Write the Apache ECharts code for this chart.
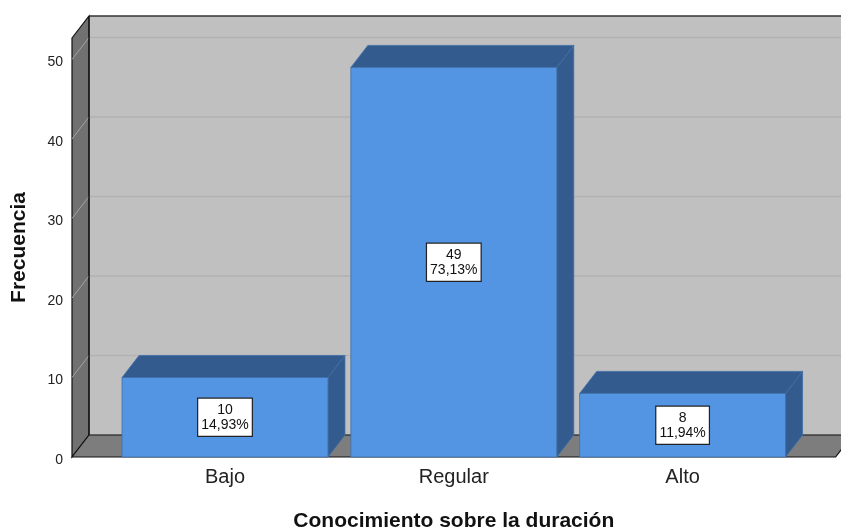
<!DOCTYPE html>
<html>
<head>
<meta charset="utf-8">
<script src="https://cdn.jsdelivr.net/npm/echarts@6/dist/echarts.min.js"></script>
<style>
html,body{margin:0;padding:0;background:#fff;overflow:hidden;}
#chart{width:841px;height:529px;}
</style>
</head>
<body>
<div id="chart"></div>
<script>
// ---- data ----
const categories = ['Bajo', 'Regular', 'Alto'];
const counts = [10, 49, 8];
const percents = [14.93, 73.13, 11.94];
const tickValues = [0, 10, 20, 30, 40, 50];
const yMax = 52.7;

// ---- style constants ----
const FONT = '"Liberation Sans", Arial, sans-serif';
const DX = 17, DY = 22;         // 3D depth offset
const PAD = 38.6;               // frame padding beyond category band
const GRID = {left: 110.6, right: 44, top: 38, bottom: 72, containLabel: false, outerBoundsMode: 'none'};

const chart = echarts.init(document.getElementById('chart'), null, {renderer: 'canvas', width: 841, height: 529});

function fmtPct(p) { return p.toFixed(2).replace('.', ',') + '%'; }

function renderFrame(params, api) {
  const cs = params.coordSys;
  const xl = cs.x - PAD, xr = cs.x + cs.width + PAD;
  const yb = api.coord([0, 0])[1];
  const yt = api.coord([0, yMax])[1];
  const children = [];
  children.push({type: 'polygon', shape: {points: [[xl + DX, yt - DY], [xr + DX + 20, yt - DY], [xr + DX + 20, yb - DY], [xl + DX, yb - DY]]},
    style: {fill: '#c0c0c0'}});
  tickValues.forEach(function (t) {
    const y = api.coord([0, t])[1];
    children.push({type: 'line', shape: {x1: xl + DX, y1: y - DY, x2: xr + DX + 20, y2: y - DY},
      style: {stroke: '#b2b2b2', lineWidth: 1.6}});
  });
  children.push({type: 'polygon', shape: {points: [[xl, yt], [xl + DX, yt - DY], [xl + DX, yb - DY], [xl, yb]]},
    style: {fill: '#717171', stroke: '#111', lineWidth: 1.2}});
  tickValues.forEach(function (t) {
    if (t === 0) return;
    const y = api.coord([0, t])[1];
    children.push({type: 'line', shape: {x1: xl, y1: y, x2: xl + DX, y2: y - DY},
      style: {stroke: '#a3a3a3', lineWidth: 1}});
  });
  children.push({type: 'polygon', shape: {points: [[xl, yb], [xl + DX, yb - DY], [xr + DX, yb - DY], [xr, yb]]},
    style: {fill: '#7d7d7d', stroke: '#111', lineWidth: 1.2}});
  children.push({type: 'line', shape: {x1: xl + DX, y1: yt - DY, x2: xr + DX + 20, y2: yt - DY},
    style: {stroke: '#333', lineWidth: 1.5}});
  children.push({type: 'line', shape: {x1: xl + DX, y1: yt - DY, x2: xl + DX, y2: yb - DY},
    style: {stroke: '#111', lineWidth: 1.2}});
  return {type: 'group', children: children};
}

function renderBar(params, api) {
  const ci = api.value(0);
  const v = api.value(1);
  const top = api.coord([ci, v]);
  const base = api.coord([ci, 0]);
  const w = api.size([1, 0])[0] * 0.9;
  const x0 = top[0] - w / 2, x1 = top[0] + w / 2;
  const yt = top[1], yb = base[1];
  const edge = {stroke: '#3f6ea8', lineWidth: 0.8};
  return {
    type: 'group',
    children: [
      {type: 'polygon', shape: {points: [[x1, yt], [x1 + DX, yt - DY], [x1 + DX, yb - DY], [x1, yb]]},
        style: Object.assign({fill: '#345b8d'}, edge)},
      {type: 'polygon', shape: {points: [[x0, yt], [x0 + DX, yt - DY], [x1 + DX, yt - DY], [x1, yt]]},
        style: Object.assign({fill: '#345b8d'}, edge)},
      {type: 'rect', shape: {x: x0, y: yt, width: w, height: yb - yt},
        style: Object.assign({fill: '#5394e3'}, edge)},
      {type: 'text', x: top[0], y: (yt + yb) / 2,
        style: {
          text: counts[params.dataIndex] + '\n' + fmtPct(percents[params.dataIndex]),
          font: '14px ' + FONT, fill: '#111', align: 'center', verticalAlign: 'middle',
          lineHeight: 15, backgroundColor: '#fff', borderColor: '#222', borderWidth: 1.2,
          padding: [4, 3, 3, 3]
        }}
    ]
  };
}

const option = {
  animation: false,
  backgroundColor: '#fff',
  grid: GRID,
  xAxis: {
    type: 'category',
    data: categories,
    axisLine: {show: false},
    axisTick: {show: false},
    axisLabel: {fontFamily: FONT, fontSize: 20, color: '#222', margin: 10},
    name: 'Conocimiento sobre la duración',
    nameLocation: 'middle',
    nameGap: 54,
    nameTextStyle: {fontFamily: FONT, fontSize: 21, fontWeight: 'bold', color: '#111'}
  },
  yAxis: {
    type: 'value',
    min: 0, max: yMax, interval: 10,
    offset: PAD,
    axisLine: {show: false},
    axisTick: {show: false},
    splitLine: {show: false},
    axisLabel: {fontFamily: FONT, fontSize: 14, color: '#222', margin: 9, showMaxLabel: false,
      verticalAlign: 'top', lineHeight: 6},
    name: 'Frecuencia',
    nameLocation: 'middle',
    nameGap: 42,
    nameTextStyle: {fontFamily: FONT, fontSize: 21, fontWeight: 'bold', color: '#111'}
  },
  series: [
    {type: 'custom', name: 'frame', renderItem: renderFrame, data: [[0, 0]], z: 1, silent: true},
    {type: 'custom', name: 'Frecuencia', renderItem: renderBar, z: 2,
      data: categories.map(function (c, i) { return [i, counts[i]]; })}
  ]
};
chart.setOption(option);
</script>
</body>
</html>
